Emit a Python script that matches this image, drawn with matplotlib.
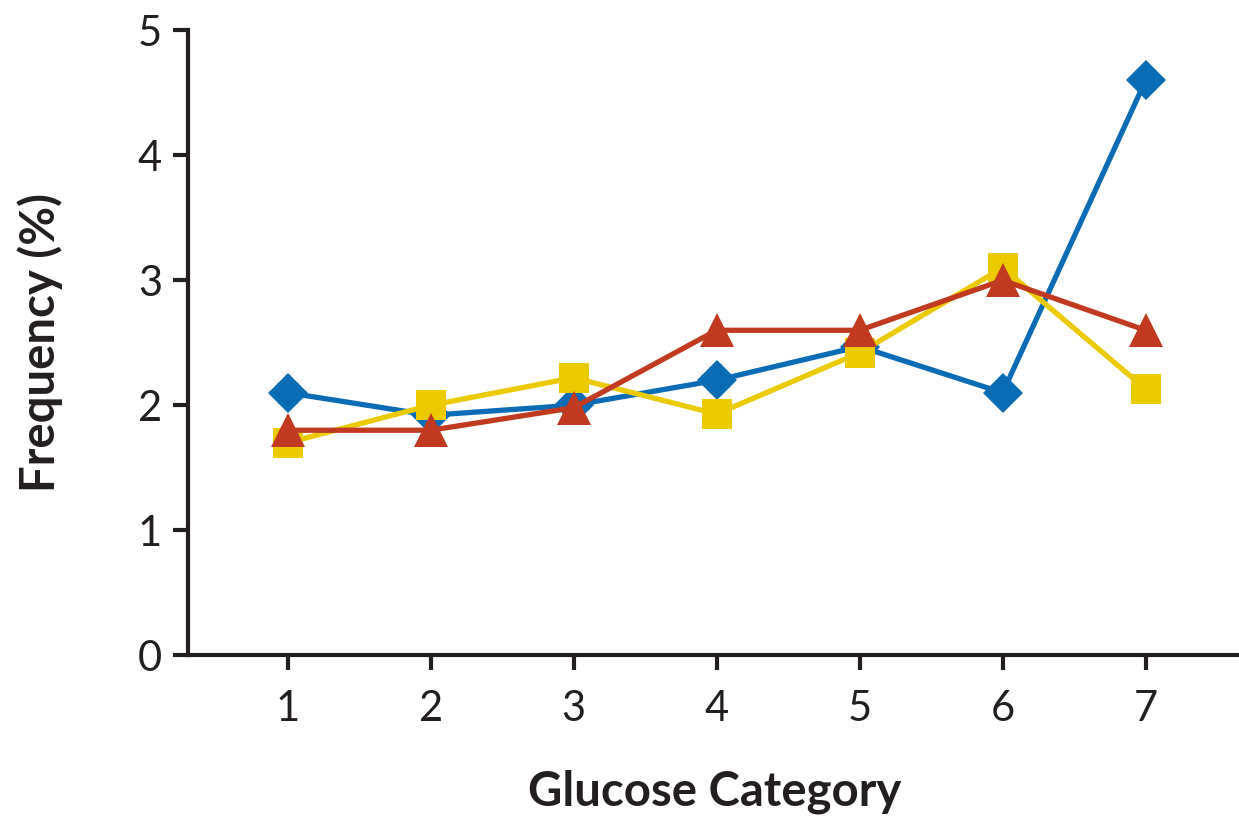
import matplotlib.pyplot as plt

# Data
categories = [1, 2, 3, 4, 5, 6, 7]
blue_vals = [2.1, 1.92, 2.0, 2.2, 2.47, 2.1, 4.6]
yellow_vals = [1.7, 2.0, 2.22, 1.93, 2.42, 3.1, 2.13]
red_vals = [1.8, 1.8, 1.98, 2.6, 2.6, 3.0, 2.6]
y_ticks = [0, 1, 2, 3, 4, 5]

BLUE = "#0a6cb5"
YELLOW = "#ecca00"
RED = "#c13a1f"
AXIS = "#231f20"

plt.rcParams["font.family"] = ["Lato", "DejaVu Sans"]

fig = plt.figure(figsize=(12.39, 8.21), dpi=100)
ax = fig.add_axes([0.152, 0.202, 0.85, 0.761])

ax.plot(categories, blue_vals, color=BLUE, lw=3.8, marker="D", ms=20,
        markeredgewidth=0, zorder=3)
ax.plot(categories, yellow_vals, color=YELLOW, lw=3.8, marker="s", ms=22,
        markeredgewidth=0, zorder=4)
ax.plot(categories, red_vals, color=RED, lw=3.8, marker="^", ms=24,
        markeredgewidth=0, zorder=5)

ax.set_xlim(0.306, 7.67)
ax.set_ylim(0, 5)
ax.set_xticks(categories)
ax.set_yticks(y_ticks)

for side in ("top", "right"):
    ax.spines[side].set_visible(False)
for side in ("left", "bottom"):
    ax.spines[side].set_linewidth(3)
    ax.spines[side].set_color(AXIS)

ax.tick_params(axis="both", direction="out", length=11, width=3,
               color=AXIS, labelsize=30, labelcolor=AXIS)
ax.tick_params(axis="x", pad=14)
ax.tick_params(axis="y", pad=8)

ax.set_xlabel("Glucose Category", fontsize=34, fontweight="bold",
              color=AXIS, labelpad=30)
ax.set_ylabel("Frequency (%)", fontsize=34, fontweight="bold",
              color=AXIS, labelpad=54)

fig.savefig("out.png", dpi=100)
